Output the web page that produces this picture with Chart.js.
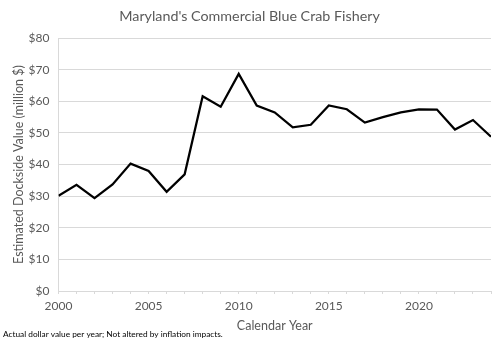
<!DOCTYPE html>
<html>
<head>
<meta charset="utf-8">
<script src="https://cdn.jsdelivr.net/npm/chart.js@4"></script>
<style>
  html, body { margin: 0; padding: 0; background: #fff; }
  #wrap { width: 500px; height: 344px; }
</style>
</head>
<body>
<div id="wrap"><canvas id="crabChart" width="500" height="344"></canvas></div>
<script>
// Maryland commercial blue crab dockside value, million $
const years = [2000, 2001, 2002, 2003, 2004, 2005, 2006, 2007, 2008, 2009, 2010, 2011, 2012,
               2013, 2014, 2015, 2016, 2017, 2018, 2019, 2020, 2021, 2022, 2023, 2024];
const dockValue = [30.1, 33.6, 29.4, 33.7, 40.3, 38.0, 31.4, 36.9, 61.6, 58.3, 68.7, 58.7, 56.5,
                   51.8, 52.6, 58.7, 57.5, 53.3, 55.0, 56.5, 57.5, 57.4, 51.1, 54.1, 48.8];
const yTicks = [0, 10, 20, 30, 40, 50, 60, 70, 80];
const xLabelYears = [2000, 2005, 2010, 2015, 2020];

const FONT = 'Lato, "Open Sans", sans-serif';
const GREY = '#595959';
const GRID = '#d9d9d9';

// footnote under the axis, Excel-style
const footnote = {
    id: 'footnote',
    afterDraw: (chart) => {
        const ctx = chart.ctx;
        ctx.save();
        ctx.font = '8.3px ' + FONT;
        ctx.fillStyle = '#000';
        ctx.textBaseline = 'middle';
        ctx.fillText('Actual dollar value per year; Not altered by inflation impacts.', 3, 334);
        ctx.restore();
    }
};

const ctx = document.getElementById('crabChart').getContext('2d');
new Chart(ctx, {
    type: 'line',
    data: {
        datasets: [{
            data: years.map((y, i) => ({ x: y, y: dockValue[i] })),
            borderColor: '#000',
            borderWidth: 2.25,
            pointRadius: 0,
            tension: 0,
            fill: false
        }]
    },
    options: {
        responsive: false,
        animation: false,
        layout: { padding: { top: 0, left: 8, right: 9, bottom: 11 } },
        scales: {
            x: {
                type: 'linear',
                min: 2000,
                max: 2024,
                afterBuildTicks: (axis) => {
                    axis.ticks = years.map(v => ({ value: v }));
                },
                afterFit: (axis) => { axis.height = 42; },
                ticks: {
                    autoSkip: false,
                    maxRotation: 0,
                    padding: 5,
                    color: GREY,
                    font: { family: FONT, size: 12 },
                    callback: (v) => xLabelYears.includes(v) ? String(v) : ''
                },
                grid: { drawOnChartArea: false, drawTicks: true, tickLength: 3, color: GRID },
                border: { display: true, color: GRID },
                title: {
                    display: true,
                    text: 'Calendar Year',
                    color: GREY,
                    font: { family: FONT, size: 12.5 },
                    padding: { top: 5, bottom: 0 }
                }
            },
            y: {
                min: 0,
                max: 80,
                afterBuildTicks: (axis) => {
                    axis.ticks = yTicks.map(v => ({ value: v }));
                },
                afterFit: (axis) => { axis.width = 50.5; },
                ticks: {
                    padding: 9,
                    color: GREY,
                    font: { family: FONT, size: 12 },
                    callback: (v) => '$' + v
                },
                grid: { color: GRID, drawTicks: false, lineWidth: 1 },
                border: { display: true, color: GRID },
                title: {
                    display: true,
                    text: 'Estimated Dockside Value (million $)',
                    color: GREY,
                    font: { family: FONT, size: 12.5 },
                    padding: { top: 3, bottom: 0 }
                }
            }
        },
        plugins: {
            legend: { display: false },
            tooltip: { enabled: false },
            title: {
                display: true,
                text: "Maryland's Commercial Blue Crab Fishery",
                color: GREY,
                font: { family: FONT, size: 14.3, weight: 'normal' },
                padding: { top: 8, bottom: 13 }
            }
        }
    },
    plugins: [footnote]
});
</script>
</body>
</html>
